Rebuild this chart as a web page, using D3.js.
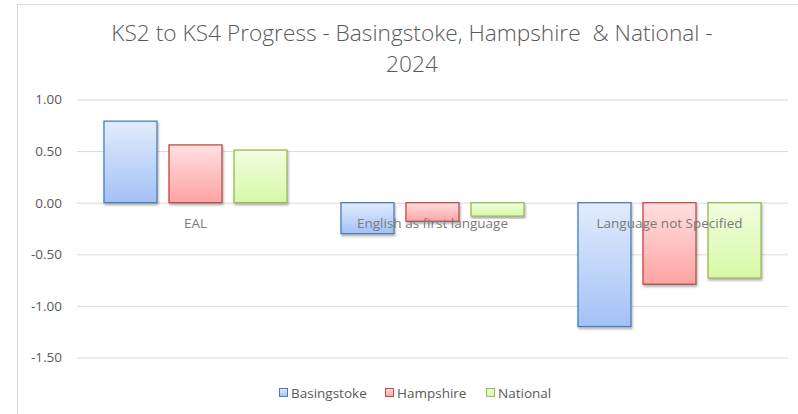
<!DOCTYPE html>
<html>
<head>
<meta charset="utf-8">
<script src="https://cdn.jsdelivr.net/npm/d3@7"></script>
<style>
  body { margin: 0; background: #fff; }
  text { font-family: "Open Sans", sans-serif; }
</style>
</head>
<body>
<div id="chart"></div>
<script>
// data
var categories = ["EAL", "English as first language", "Language not Specified"];
var seriesNames = ["Basingstoke", "Hampshire", "National"];
var basingstoke = [0.79, -0.30, -1.20];
var hampshire = [0.56, -0.18, -0.79];
var national = [0.51, -0.13, -0.73];
var yTicks = [1.0, 0.5, 0.0, -0.5, -1.0, -1.5];
var titleLines = ["KS2 to KS4 Progress - Basingstoke, Hampshire  & National -", "2024"];

// chart dimensions
var svgWidth = 798;
var svgHeight = 414;
var margin = { top: 99.5, left: 77, right: 10, bottom: 56.5 };
var width = 788 - margin.left;
var height = 357.5 - margin.top;

var svg = d3.select("#chart").append("svg")
  .attr("width", svgWidth)
  .attr("height", svgHeight);

// colours per series: gradient top, gradient bottom, border
var colours = [
  { top: "#e2ecfd", bottom: "#a3c1f6", stroke: "#4a7ebb" },
  { top: "#ffe0e0", bottom: "#ffa3a3", stroke: "#be4b48" },
  { top: "#f2fde2", bottom: "#d6f9a6", stroke: "#98b954" }
];

var defs = svg.append("defs");
colours.forEach(function(c, i) {
  var g = defs.append("linearGradient")
    .attr("id", "grad" + i)
    .attr("x1", 0).attr("y1", 0).attr("x2", 0).attr("y2", 1);
  g.append("stop").attr("offset", "0%").attr("stop-color", c.top);
  g.append("stop").attr("offset", "100%").attr("stop-color", c.bottom);
});
var shadow = defs.append("filter").attr("id", "shadow")
  .attr("x", "-20%").attr("y", "-20%").attr("width", "140%").attr("height", "140%");
shadow.append("feDropShadow")
  .attr("dx", 1).attr("dy", 2).attr("stdDeviation", 1.2)
  .attr("flood-color", "#000").attr("flood-opacity", 0.3);

// outer chart border
svg.append("rect")
  .attr("x", 17.5).attr("y", 4.5)
  .attr("width", 820).attr("height", 430)
  .attr("fill", "#fff")
  .attr("stroke", "#d9d9d9");

// title (keeps the double space)
svg.append("g").selectAll("text")
  .data(titleLines)
  .enter()
  .append("text")
  .attr("x", 412)
  .attr("y", (d, i) => 41 + i * 31)
  .attr("text-anchor", "middle")
  .attr("font-size", "22.7px")
  .attr("font-weight", 300)
  .attr("fill", "#595959")
  .style("white-space", "pre")
  .text(d => d);

var chartGroup = svg.append("g")
  .attr("transform", `translate(${margin.left}, ${margin.top})`);

// scales
var x0 = d3.scaleBand()
  .domain(categories)
  .range([0, width]);

var x1 = d3.scaleBand()
  .domain(seriesNames)
  .range([0, x0.bandwidth()])
  .paddingInner(0.185)
  .paddingOuter(0.415);

var yLinearScale = d3.scaleLinear()
  .domain([-1.5, 1])
  .range([height, 0]);

// y axis with gridlines
var leftAxis = d3.axisLeft(yLinearScale)
  .tickValues(yTicks)
  .tickFormat(d => d.toFixed(2))
  .tickSize(-width)
  .tickPadding(15);

var yAxis = chartGroup.append("g")
  .call(leftAxis);
yAxis.select(".domain").remove();
yAxis.selectAll(".tick line").attr("stroke", "#d9d9d9");
yAxis.selectAll(".tick text")
  .attr("font-family", "Open Sans, sans-serif")
  .attr("font-size", "13.5px")
  .attr("fill", "#595959");

// rows for bars
var seriesValues = [basingstoke, hampshire, national];
var barData = [];
categories.forEach(function(cat, ci) {
  seriesNames.forEach(function(s, si) {
    barData.push({ category: cat, series: s, si: si, value: seriesValues[si][ci] });
  });
});

chartGroup.selectAll(".bar")
  .data(barData)
  .enter()
  .append("rect")
  .attr("class", "bar")
  .attr("x", d => x0(d.category) + x1(d.series))
  .attr("y", d => yLinearScale(Math.max(0, d.value)))
  .attr("width", x1.bandwidth())
  .attr("height", d => Math.abs(yLinearScale(d.value) - yLinearScale(0)))
  .attr("fill", d => `url(#grad${d.si})`)
  .attr("stroke", d => colours[d.si].stroke)
  .attr("stroke-width", 1.3)
  .attr("filter", "url(#shadow)");

// category labels sit just under the zero line
chartGroup.selectAll(".catLabel")
  .data(categories)
  .enter()
  .append("text")
  .attr("class", "catLabel")
  .attr("x", d => x0(d) + x0.bandwidth() / 2)
  .attr("y", yLinearScale(0) + 25)
  .attr("text-anchor", "middle")
  .attr("font-size", "13.5px")
  .attr("fill", "#7a7a7a")
  .text(d => d);

// legend
var legendX = [279, 385, 486];
var legend = svg.append("g").selectAll("g")
  .data(seriesNames)
  .enter()
  .append("g")
  .attr("transform", (d, i) => `translate(${legendX[i]}, 388)`);
legend.append("rect")
  .attr("x", 0.5).attr("y", 0.5)
  .attr("width", 8).attr("height", 8)
  .attr("fill", (d, i) => `url(#grad${i})`)
  .attr("stroke", (d, i) => colours[i].stroke);
legend.append("text")
  .attr("x", 12)
  .attr("y", 9.5)
  .attr("font-size", "13.5px")
  .attr("fill", "#595959")
  .text(d => d);
</script>
</body>
</html>
